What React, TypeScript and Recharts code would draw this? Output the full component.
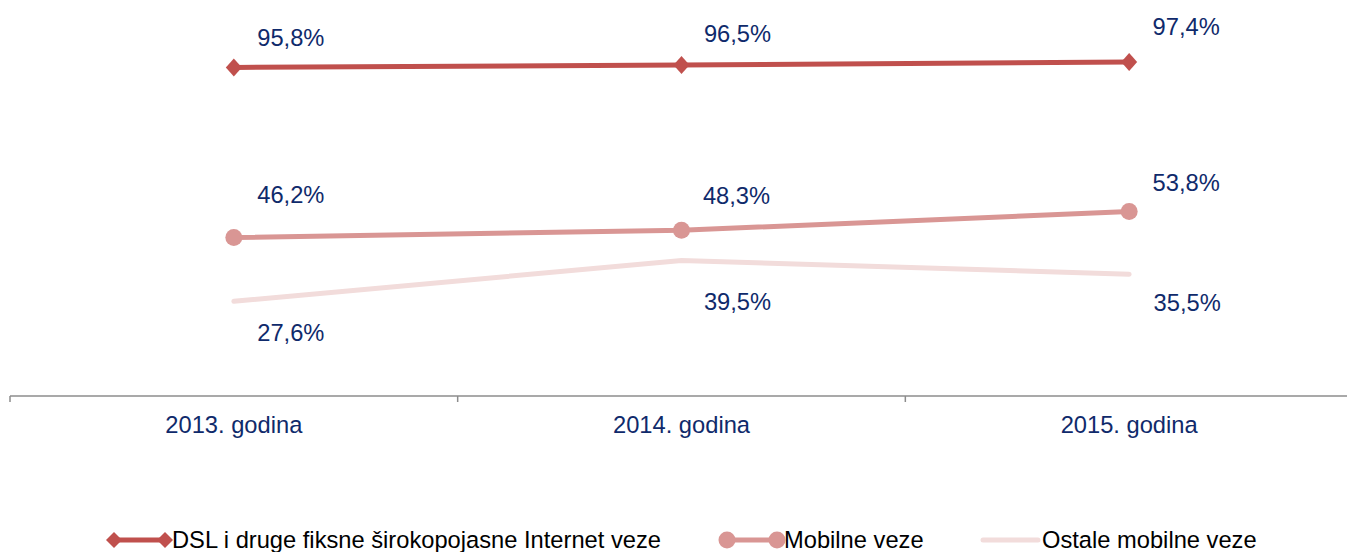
import React from 'react';
import { LabelList, Legend, Line, LineChart, XAxis, YAxis } from 'recharts';

const YEARS = ['2013. godina', '2014. godina', '2015. godina'];
const DSL = [95.8, 96.5, 97.4];
const MOBILNE = [46.2, 48.3, 53.8];
const OSTALE = [27.6, 39.5, 35.5];
const X_TICKS = [0, 0.5, 1, 1.5, 2, 2.5, 3];

const FONT = '"Liberation Sans", Arial, sans-serif';
const NAVY = '#0f2a6b';
const AXIS_GRAY = '#8c8c8c';

const SERIES = [
  { key: 'dsl', label: 'DSL i druge fiksne širokopojasne Internet veze', color: '#c0504d', marker: 'diamond' },
  { key: 'mob', label: 'Mobilne veze', color: '#d99694', marker: 'circle' },
  { key: 'ost', label: 'Ostale mobilne veze', color: '#f2dcdb', marker: 'none' },
] as const;

// hand-placed data labels, like in the original spreadsheet chart
const LABEL_OFFSETS: Record<string, Array<[number, number]>> = {
  dsl: [[57, -30], [56, -32], [57, -35]],
  mob: [[57, -43], [55, -35], [57, -29]],
  ost: [[57, 31], [56, 41], [58, 28]],
};

const FONT_SIZE = 23.7;

const data = YEARS.map((year, i) => ({
  x: i + 0.5,
  year,
  dsl: DSL[i],
  mob: MOBILNE[i],
  ost: OSTALE[i],
}));

const fmt = (v: number) => v.toFixed(1).replace('.', ',') + '%';

function diamondPath(cx: number, cy: number, w: number, h: number) {
  return `M${cx - w},${cy} L${cx},${cy - h} L${cx + w},${cy} L${cx},${cy + h} Z`;
}

function AxisTick(props: any) {
  const { x, y, payload } = props;
  const v = payload.value as number;
  if (Number.isInteger(v)) {
    return <line x1={x} y1={y} x2={x} y2={y + 6} stroke={AXIS_GRAY} strokeWidth={1.5} />;
  }
  return (
    <text x={x} y={y + 37} textAnchor="middle" fill={NAVY} fontSize={FONT_SIZE} fontFamily={FONT}>
      {YEARS[Math.floor(v)]}
    </text>
  );
}

function makeLabel(key: string) {
  return (props: any) => {
    const { x, y, value, index } = props;
    const [dx, dy] = LABEL_OFFSETS[key][index];
    return (
      <text
        x={x + dx}
        y={y + dy + FONT_SIZE * 0.36}
        textAnchor="middle"
        fill={NAVY}
        fontSize={FONT_SIZE}
        fontFamily={FONT}
      >
        {fmt(Number(value))}
      </text>
    );
  };
}

function LegendContent() {
  const items = [
    { left: 114, right: 165, text: 172 },
    { left: 727, right: 777, text: 784 },
    { left: 983, right: 1038, text: 1042 },
  ];
  const cy = 14;
  return (
    <svg width={1353} height={26} style={{ display: 'block', overflow: 'visible' }}>
      {SERIES.map((s, i) => {
        const it = items[i];
        return (
          <g key={s.key}>
            <line x1={it.left} y1={cy} x2={it.right} y2={cy} stroke={s.color} strokeWidth={5} strokeLinecap="round" />
            {s.marker === 'diamond' && (
              <>
                <path d={diamondPath(it.left, cy, 8, 8)} fill={s.color} />
                <path d={diamondPath(it.right, cy, 8, 8)} fill={s.color} />
              </>
            )}
            {s.marker === 'circle' && (
              <>
                <circle cx={it.left} cy={cy} r={8.5} fill={s.color} />
                <circle cx={it.right} cy={cy} r={8.5} fill={s.color} />
              </>
            )}
            <text x={it.text} y={cy + 8} fill="#000" fontSize={FONT_SIZE} fontFamily={FONT}>
              {s.label}
            </text>
          </g>
        );
      })}
    </svg>
  );
}

export default function App() {
  return (
    <div style={{ position: 'absolute', left: 0, top: 0, width: 1347, height: 552, overflow: 'hidden', background: '#fff' }}>
      <LineChart width={1353} height={552} data={data} margin={{ top: 18.7, right: 0, left: 10, bottom: 0 }}>
        <XAxis
          type="number"
          dataKey="x"
          domain={[0, 3]}
          ticks={X_TICKS}
          interval={0}
          allowDataOverflow
          height={130}
          tickLine={false}
          tickSize={0}
          tickMargin={0}
          axisLine={{ stroke: AXIS_GRAY, strokeWidth: 1.5 }}
          tick={<AxisTick />}
        />
        <YAxis hide domain={[0, 110]} />
        <Legend
          verticalAlign="bottom"
          content={<LegendContent />}
          wrapperStyle={{ left: 0, width: 1353, height: 26 }}
        />
        <Line
          dataKey="ost"
          stroke="#f2dcdb"
          strokeWidth={5}
          strokeLinecap="round"
          dot={false}
          activeDot={false}
          isAnimationActive={false}
        >
          <LabelList dataKey="ost" content={makeLabel('ost')} />
        </Line>
        <Line
          dataKey="mob"
          stroke="#d99694"
          strokeWidth={5}
          dot={(p: any) => <circle key={`m${p.index}`} cx={p.cx} cy={p.cy} r={8.5} fill="#d99694" />}
          activeDot={false}
          isAnimationActive={false}
        >
          <LabelList dataKey="mob" content={makeLabel('mob')} />
        </Line>
        <Line
          dataKey="dsl"
          stroke="#c0504d"
          strokeWidth={5}
          dot={(p: any) => <path key={`d${p.index}`} d={diamondPath(p.cx, p.cy, 8, 9)} fill="#c0504d" />}
          activeDot={false}
          isAnimationActive={false}
        >
          <LabelList dataKey="dsl" content={makeLabel('dsl')} />
        </Line>
      </LineChart>
    </div>
  );
}
